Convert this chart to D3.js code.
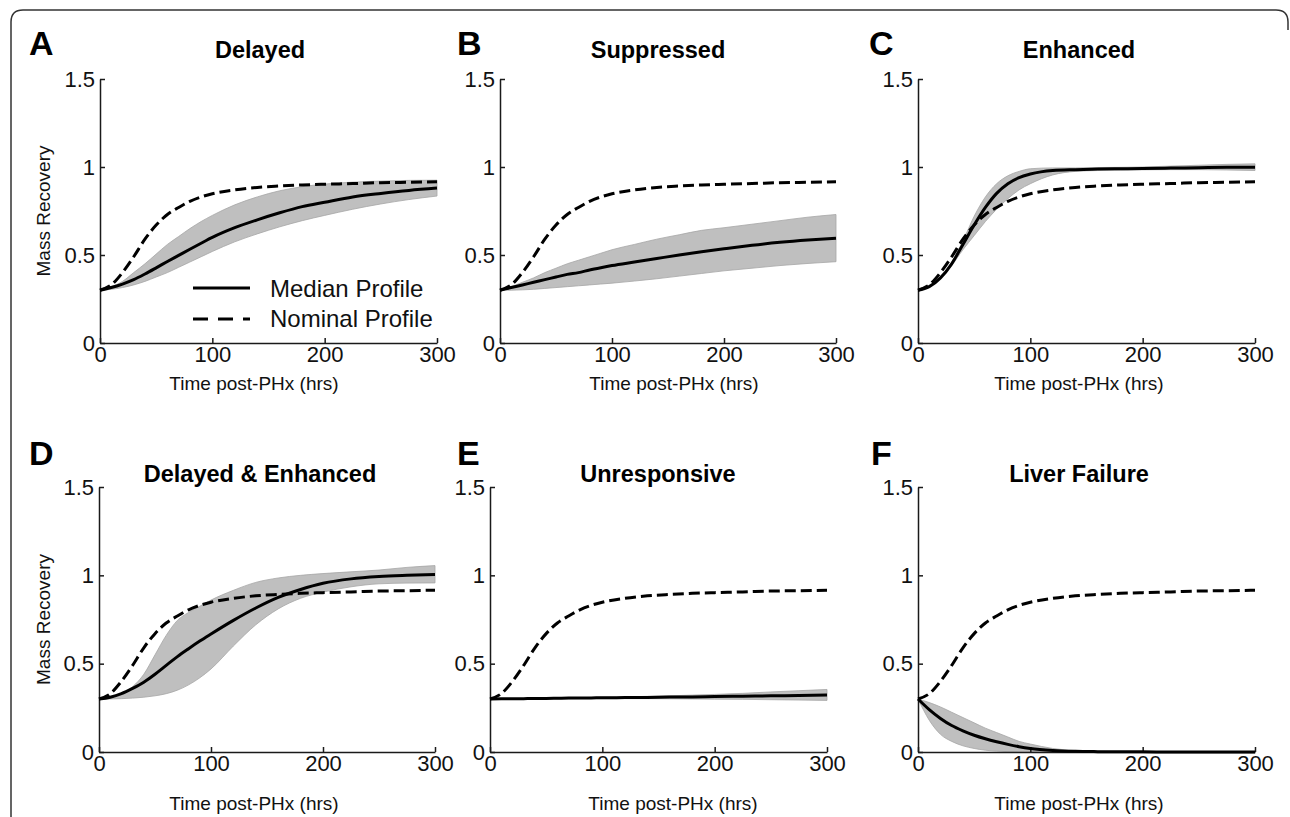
<!DOCTYPE html>
<html lang="en">
<head>
<meta charset="UTF-8">
<title>Mass recovery profiles</title>
<script src="https://d3js.org/d3.v7.min.js"></script>
<style>
	body{margin:0;background:#fff}
	svg{display:block;font-family:"Liberation Sans",Arial,Helvetica,sans-serif}
	.axis path,.axis line{stroke:#1a1a1a;stroke-width:1.5px}
	.axis text{font-size:22px;fill:#111;font-family:"Liberation Sans",Arial,sans-serif}
</style>
</head>
<body>
<svg id="chart" width="1290" height="817"></svg>
<script>
// time points (hrs) shared by every series
var times   = [0, 10, 20, 30, 40, 50, 60, 70, 80, 90, 100, 120, 140, 160, 180, 200, 225, 250, 275, 300];
// nominal profile, same in all panels
var nominal = [0.30, 0.33, 0.40, 0.49, 0.59, 0.67, 0.73, 0.77, 0.805, 0.83, 0.848, 0.87, 0.884, 0.892, 0.898, 0.902, 0.906, 0.911, 0.913, 0.916];

// A - Delayed
var medianA = [0.30, 0.315, 0.335, 0.36, 0.392, 0.427, 0.463, 0.498, 0.533, 0.567, 0.60, 0.655, 0.70, 0.74, 0.775, 0.80, 0.83, 0.85, 0.867, 0.88];
var lowerA  = [0.30, 0.305, 0.315, 0.33, 0.35, 0.375, 0.40, 0.43, 0.46, 0.49, 0.52, 0.575, 0.62, 0.66, 0.695, 0.725, 0.76, 0.79, 0.815, 0.835];
var upperA  = [0.30, 0.32, 0.35, 0.40, 0.45, 0.505, 0.56, 0.605, 0.65, 0.69, 0.725, 0.785, 0.83, 0.865, 0.888, 0.903, 0.914, 0.92, 0.924, 0.925];
// B - Suppressed
var medianB = [0.30, 0.315, 0.33, 0.345, 0.36, 0.375, 0.39, 0.40, 0.415, 0.428, 0.44, 0.46, 0.48, 0.50, 0.518, 0.535, 0.555, 0.572, 0.585, 0.595];
var lowerB  = [0.30, 0.30, 0.302, 0.305, 0.31, 0.315, 0.32, 0.325, 0.33, 0.335, 0.34, 0.352, 0.365, 0.38, 0.395, 0.41, 0.425, 0.44, 0.452, 0.462];
var upperB  = [0.30, 0.32, 0.345, 0.37, 0.40, 0.425, 0.45, 0.47, 0.49, 0.51, 0.53, 0.56, 0.59, 0.615, 0.64, 0.655, 0.675, 0.695, 0.715, 0.73];
// C - Enhanced
var medianC = [0.30, 0.32, 0.37, 0.45, 0.56, 0.67, 0.77, 0.85, 0.905, 0.94, 0.96, 0.98, 0.985, 0.988, 0.99, 0.992, 0.994, 0.996, 0.998, 0.998];
var lowerC  = [0.30, 0.32, 0.37, 0.44, 0.53, 0.61, 0.69, 0.76, 0.82, 0.87, 0.905, 0.955, 0.975, 0.98, 0.982, 0.984, 0.985, 0.985, 0.983, 0.98];
var upperC  = [0.30, 0.32, 0.37, 0.46, 0.58, 0.72, 0.83, 0.905, 0.95, 0.975, 0.99, 0.995, 0.995, 0.997, 0.998, 1.0, 1.005, 1.01, 1.015, 1.018];
// D - Delayed & Enhanced
var medianD = [0.30, 0.31, 0.33, 0.36, 0.395, 0.44, 0.49, 0.54, 0.585, 0.628, 0.668, 0.745, 0.815, 0.875, 0.92, 0.955, 0.98, 0.993, 1.0, 1.005];
var lowerD  = [0.30, 0.30, 0.302, 0.305, 0.31, 0.318, 0.33, 0.35, 0.38, 0.42, 0.47, 0.60, 0.72, 0.81, 0.87, 0.905, 0.935, 0.952, 0.956, 0.957];
var upperD  = [0.30, 0.31, 0.33, 0.37, 0.44, 0.55, 0.66, 0.745, 0.79, 0.825, 0.86, 0.915, 0.96, 0.985, 1.0, 1.01, 1.02, 1.03, 1.045, 1.055];
// E - Unresponsive
var medianE = [0.300, 0.301, 0.301, 0.302, 0.303, 0.303, 0.304, 0.305, 0.305, 0.306, 0.307, 0.308, 0.309, 0.311, 0.312, 0.314, 0.316, 0.318, 0.320, 0.322];
var lowerE  = [0.300, 0.300, 0.300, 0.300, 0.300, 0.301, 0.301, 0.301, 0.302, 0.302, 0.302, 0.302, 0.302, 0.301, 0.300, 0.299, 0.298, 0.296, 0.294, 0.292];
var upperE  = [0.300, 0.301, 0.302, 0.303, 0.304, 0.305, 0.306, 0.307, 0.308, 0.309, 0.310, 0.312, 0.315, 0.318, 0.322, 0.326, 0.332, 0.340, 0.347, 0.354];
// F - Liver Failure
var medianF = [0.30, 0.24, 0.19, 0.15, 0.12, 0.095, 0.075, 0.058, 0.043, 0.03, 0.02, 0.009, 0.004, 0.002, 0.001, 0.001, 0, 0, 0, 0];
var lowerF  = [0.30, 0.18, 0.10, 0.06, 0.035, 0.02, 0.01, 0.005, 0.002, 0.001, 0, 0, 0, 0, 0, 0, 0, 0, 0, 0];
var upperF  = [0.30, 0.28, 0.255, 0.225, 0.195, 0.165, 0.135, 0.11, 0.085, 0.06, 0.045, 0.02, 0.008, 0.004, 0.002, 0.001, 0, 0, 0, 0];

var panelLetters = ["A", "B", "C", "D", "E", "F"];
var panelTitles  = ["Delayed", "Suppressed", "Enhanced", "Delayed & Enhanced", "Unresponsive", "Liver Failure"];
var xTicks = [0, 100, 200, 300];
var yTicks = [0, 0.5, 1, 1.5];
var yTickLabels = ["0", "0.5", "1", "1.5"];
var xLabel = "Time post-PHx (hrs)";
var yLabel = "Mass Recovery";
var legendLabels = ["Median Profile", "Nominal Profile"];

var medians = [medianA, medianB, medianC, medianD, medianE, medianF];
var lowers  = [lowerA, lowerB, lowerC, lowerD, lowerE, lowerF];
var uppers  = [upperA, upperB, upperC, upperD, upperE, upperF];

// pixel layout of each panel
var layout = [
	{x0:100, x1:437, y0:343, y1:79, tx:260, ty:58, lx:29, ly:55, xlx:254, xly:390},
	{x0:500, x1:836, y0:343, y1:79, tx:658, ty:58, lx:457, ly:55, xlx:674, xly:390},
	{x0:918, x1:1255, y0:343, y1:79, tx:1079, ty:58, lx:869, ly:55, xlx:1079, xly:390},
	{x0:99, x1:435, y0:752, y1:487, tx:260, ty:482, lx:29, ly:465, xlx:254, xly:810},
	{x0:490, x1:827, y0:752, y1:487, tx:658, ty:482, lx:457, ly:465, xlx:673, xly:810},
	{x0:918, x1:1255, y0:752, y1:487, tx:1079, ty:482, lx:871, ly:465, xlx:1079, xly:810}
];

var svg = d3.select("#chart");
svg.append("rect").attr("width", 1290).attr("height", 817).attr("fill", "#fff");

// frame round the figure
svg.append("path")
	.attr("d", "M11,817 L11,22 Q11,10 23,10 L1276,10 Q1288,10 1288,22 L1288,30")
	.attr("fill", "none").attr("stroke", "#333").attr("stroke-width", 1.5);

layout.forEach(function(p, i){
	var x = d3.scaleLinear().domain([0, 300]).range([p.x0, p.x1]);
	var y = d3.scaleLinear().domain([0, 1.5]).range([p.y0, p.y1]);
	var g = svg.append("g");

	var rows = times.map(function(t, j){
		return {t: t, med: medians[i][j], lo: lowers[i][j], hi: uppers[i][j], nom: nominal[j]};
	});

	var band = d3.area().x(function(d){ return x(d.t); })
		.y0(function(d){ return y(d.lo); }).y1(function(d){ return y(d.hi); })
		.curve(d3.curveMonotoneX);
	var medLine = d3.line().x(function(d){ return x(d.t); }).y(function(d){ return y(d.med); }).curve(d3.curveMonotoneX);
	var nomLine = d3.line().x(function(d){ return x(d.t); }).y(function(d){ return y(d.nom); }).curve(d3.curveMonotoneX);

	g.append("path").datum(rows).attr("d", band)
		.attr("fill", "#bfbfbf").attr("stroke", "#a6a6a6").attr("stroke-width", 0.8);

	// axes (ticks point inward like matlab)
	g.append("g").attr("class", "axis")
		.attr("transform", "translate(0," + p.y0 + ")")
		.call(d3.axisBottom(x).tickValues(xTicks).tickFormat(d3.format("d"))
			.tickSizeInner(-5).tickSizeOuter(0).tickPadding(3));
	g.append("g").attr("class", "axis")
		.attr("transform", "translate(" + p.x0 + ",0)")
		.call(d3.axisLeft(y).tickValues(yTicks).tickFormat(function(d, k){ return yTickLabels[k]; })
			.tickSizeInner(-5).tickSizeOuter(0).tickPadding(5));

	g.append("path").datum(rows).attr("d", medLine)
		.attr("fill", "none").attr("stroke", "#000").attr("stroke-width", 3);
	g.append("path").datum(rows).attr("d", nomLine)
		.attr("fill", "none").attr("stroke", "#000").attr("stroke-width", 3)
		.attr("stroke-dasharray", "11,5");

	g.append("text").attr("x", p.lx).attr("y", p.ly)
		.attr("font-size", 34).attr("font-weight", "bold").attr("fill", "#000")
		.text(panelLetters[i]);
	g.append("text").attr("x", p.tx).attr("y", p.ty).attr("text-anchor", "middle")
		.attr("font-size", 23.5).attr("font-weight", "bold").attr("fill", "#000")
		.text(panelTitles[i]);
	g.append("text").attr("x", p.xlx).attr("y", p.xly).attr("text-anchor", "middle")
		.attr("font-size", 19).attr("fill", "#111")
		.text(xLabel);

	if (i % 3 == 0) {
		var cy = (p.y0 + p.y1) / 2;
		g.append("text").attr("transform", "translate(50," + cy + ") rotate(-90)")
			.attr("text-anchor", "middle").attr("font-size", 19).attr("fill", "#111")
			.text(yLabel);
	}
});

// legend in panel A
var leg = svg.append("g");
leg.append("line").attr("x1", 193).attr("x2", 250).attr("y1", 288).attr("y2", 288)
	.attr("stroke", "#000").attr("stroke-width", 3);
leg.append("line").attr("x1", 193).attr("x2", 250).attr("y1", 319).attr("y2", 319)
	.attr("stroke", "#000").attr("stroke-width", 3).attr("stroke-dasharray", "15,10");
leg.selectAll("text.leg").data(legendLabels).enter().append("text")
	.attr("class", "leg")
	.attr("x", 270).attr("y", function(d, k){ return 297 + k * 30; })
	.attr("font-size", 24).attr("fill", "#111")
	.text(function(d){ return d; });
</script>
</body>
</html>
